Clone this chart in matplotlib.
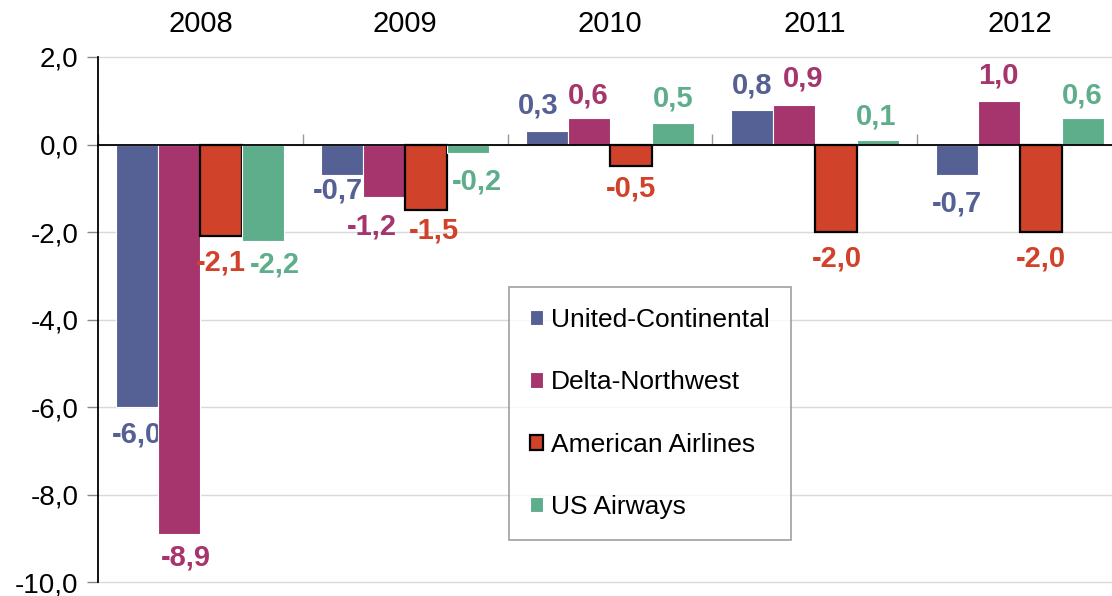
import matplotlib
matplotlib.use("Agg")
import matplotlib.pyplot as plt
import numpy as np

years = ["2008", "2009", "2010", "2011", "2012"]
series_names = ["United-Continental", "Delta-Northwest", "American Airlines", "US Airways"]
united_continental = [-6.0, -0.7, 0.3, 0.8, -0.7]
delta_northwest = [-8.9, -1.2, 0.6, 0.9, 1.0]
american_airlines = [-2.1, -1.5, -0.5, -2.0, -2.0]
us_airways = [-2.2, -0.2, 0.5, 0.1, 0.6]
y_ticks = [2.0, 0.0, -2.0, -4.0, -6.0, -8.0, -10.0]

colors = ["#556094", "#A5356C", "#D04229", "#5EAE8C"]
series = [united_continental, delta_northwest, american_airlines, us_airways]

# label nudges in pixels: (dx, distance from bar end)
label_nudges = [
    [(0, 27), (-4, 15), (-9, 26), (0, 24), (0, 28)],
    [(6, 24), (-12, 29), (-1, 23), (9, 27), (0, 25)],
    [(-1, 26), (8, 20), (0, 22), (1, 26), (0, 26)],
    [(11, 24), (9, 28), (0, 24), (-2, 24), (0, 23)],
]

plt.rcParams['font.family'] = ['Liberation Sans', 'DejaVu Sans']

fig = plt.figure(figsize=(11.12, 5.96), dpi=100)
ax = fig.add_axes([98/1112, 14/596, 1024/1112, 525/596])

x = np.arange(len(years))
w = 0.205
fs_tick = 20
fs_val = 21
fs_leg = 19
px2pt = 72 / 100
for i, (vals, c) in enumerate(zip(series, colors)):
    pos = x + (i - 1.5) * w
    if i == 2:
        ax.bar(pos, vals, w, color=c, edgecolor="black", linewidth=1.6, zorder=3,
               label=series_names[i])
    else:
        ax.bar(pos, vals, w, color=c, edgecolor="white", linewidth=0.8, zorder=3,
               label=series_names[i])
    for j, (p, v) in enumerate(zip(pos, vals)):
        txt = f"{v:.1f}".replace(".", ",")
        dx, dd = label_nudges[i][j]
        dy = dd if v >= 0 else -dd
        ax.annotate(txt, (p, v), xytext=(dx * px2pt, dy * px2pt), textcoords="offset points",
                    ha="center", va="center", fontsize=fs_val, fontweight="bold", color=c)

ax.set_xlim(-0.5, len(years) - 0.5)
ax.set_ylim(-10, 2)
ax.set_yticks(y_ticks)
ax.set_yticklabels([f"{t:.1f}".replace(".", ",") for t in y_ticks], fontsize=fs_tick)
ax.yaxis.grid(True, color="#d9d9d9", linewidth=1, zorder=0, clip_on=False)
ax.set_axisbelow(True)
ax.tick_params(axis="y", direction="out", length=8, color="#888888", width=1, pad=6)

for s in ["top", "right"]:
    ax.spines[s].set_visible(False)
ax.spines["left"].set_color("black")
ax.spines["left"].set_linewidth(1.3)
ax.spines["bottom"].set_position(("data", 0))
ax.spines["bottom"].set_color("black")
ax.spines["bottom"].set_linewidth(1.3)
ax.spines["bottom"].set_zorder(4)

ax.set_xticks(np.arange(len(years) + 1) - 0.5)
ax.set_xticklabels([])
ax.tick_params(axis="x", direction="in", length=8, color="#999999", width=1)

for xi, yr in zip(x, years):
    ax.text(xi, 1.063, yr, transform=ax.get_xaxis_transform(), ha="center", va="center",
            fontsize=21)

leg = ax.legend(loc="upper left", bbox_to_anchor=(509/1112, 1 - 287/596),
                bbox_transform=fig.transFigure, fontsize=fs_leg, frameon=True, fancybox=False,
                edgecolor="#888888", handlelength=0.5, handleheight=0.5, handletextpad=0.3,
                labelspacing=1.45, borderpad=0.8, borderaxespad=0)
leg.get_frame().set_linewidth(1.2)

fig.savefig("out.png", dpi=100)
